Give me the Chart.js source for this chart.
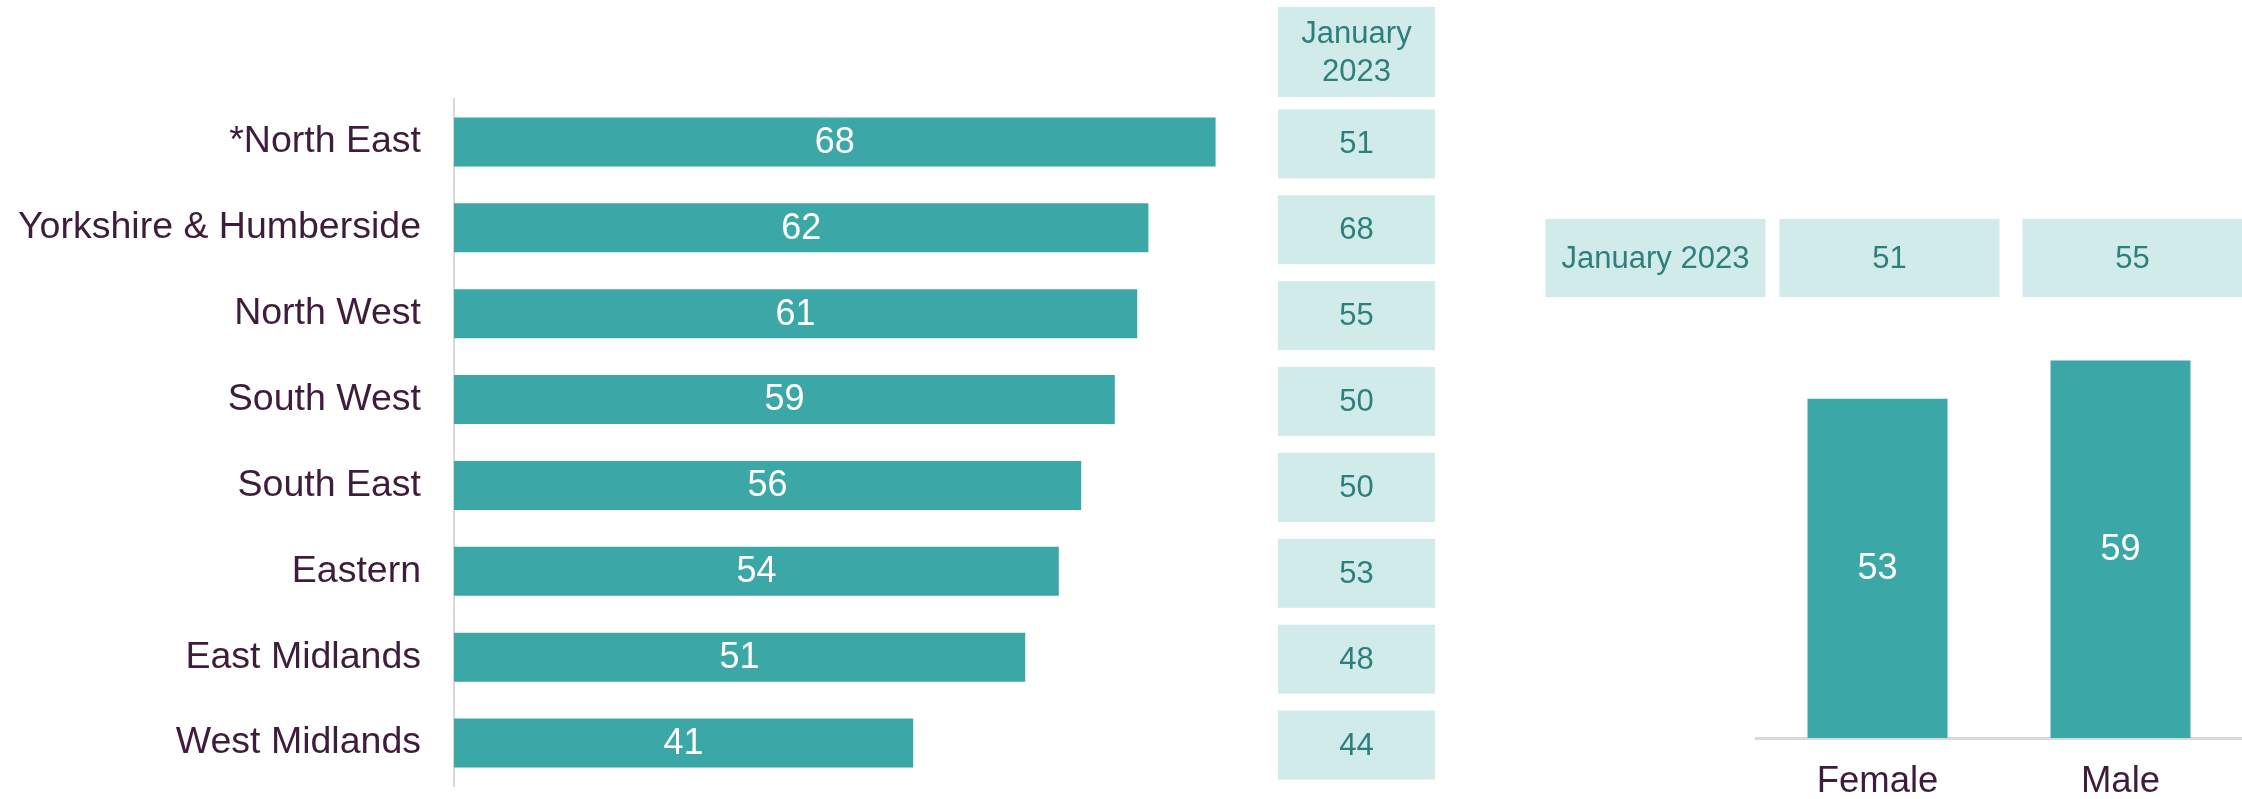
<!DOCTYPE html>
<html>
<head>
<meta charset="utf-8">
<title>Regions and gender</title>
<script src="https://cdn.jsdelivr.net/npm/chart.js@4/dist/chart.umd.min.js"></script>
<style>
    html, body { margin: 0; padding: 0; background: #ffffff; }
    #wrap { position: relative; width: 2242px; height: 799px; overflow: hidden; }
    #regionChart { position: absolute; left: 0; top: 0; }
    #genderChart { position: absolute; left: 1460px; top: 0; }
</style>
</head>
<body>
<div id="wrap">
    <canvas id="regionChart" width="1460" height="799"></canvas>
    <canvas id="genderChart" width="782" height="799"></canvas>
</div>
<script>
// ---------- Data ----------
const regions = ['*North East', 'Yorkshire & Humberside', 'North West', 'South West', 'South East', 'Eastern', 'East Midlands', 'West Midlands'];
const regionValues = [68, 62, 61, 59, 56, 54, 51, 41];
const regionJan2023 = [51, 68, 55, 50, 50, 53, 48, 44];
const regionTableHeader = ['January', '2023'];

const genders = ['Female', 'Male'];
const genderValues = [53, 59];
const genderJan2023 = [51, 55];
const genderRowLabel = 'January 2023';

// ---------- Styles ----------
const FONT = '"Liberation Sans", Arial, sans-serif';
const BAR = '#3ba7a6';
const BOX_BG = '#d1eaea';
const BOX_TEXT = '#2d7f7c';
const LABEL = '#3e1c3b';
const AXIS = '#d9d9d9';

// white value inside each bar
const barValueLabels = {
    id: 'barValueLabels',
    afterDatasetsDraw(chart) {
        const ctx = chart.ctx;
        const meta = chart.getDatasetMeta(0);
        const values = chart.data.datasets[0].data;
        ctx.save();
        ctx.fillStyle = '#ffffff';
        ctx.font = '36px ' + FONT;
        ctx.textAlign = 'center';
        ctx.textBaseline = 'middle';
        meta.data.forEach((bar, i) => {
            const p = bar.getCenterPoint();
            ctx.fillText(String(values[i]), p.x, p.y + 1);
        });
        ctx.restore();
    },
};

// side table next to the region bars
const regionTable = {
    id: 'regionTable',
    afterDraw(chart) {
        const ctx = chart.ctx;
        const y = chart.scales.y;
        const x0 = 1278, w = 157, cx = x0 + w / 2;
        ctx.save();
        ctx.fillStyle = BOX_BG;
        ctx.fillRect(x0, 7, w, 90);
        ctx.fillStyle = BOX_TEXT;
        ctx.font = '31px ' + FONT;
        ctx.textAlign = 'center';
        ctx.textBaseline = 'middle';
        ctx.fillText(regionTableHeader[0], cx, 34);
        ctx.fillText(regionTableHeader[1], cx, 72);
        regionJan2023.forEach((v, i) => {
            const cy = y.getPixelForValue(i) + 2;
            ctx.fillStyle = BOX_BG;
            ctx.fillRect(x0, cy - 34.5, w, 69);
            ctx.fillStyle = BOX_TEXT;
            ctx.fillText(String(v), cx, cy + 1);
        });
        ctx.restore();
    },
};

// row of boxes above the gender bars
const genderTable = {
    id: 'genderTable',
    afterDraw(chart) {
        const ctx = chart.ctx;
        const x = chart.scales.x;
        const w = 220, top = 219, h = 78, cy = top + h / 2;
        const centers = genderJan2023.map((v, i) => x.getPixelForValue(i) + 12);
        ctx.save();
        ctx.font = '31px ' + FONT;
        ctx.textAlign = 'center';
        ctx.textBaseline = 'middle';
        const labelCx = centers[0] - 234;
        ctx.fillStyle = BOX_BG;
        ctx.fillRect(labelCx - w / 2, top, w, h);
        ctx.fillStyle = BOX_TEXT;
        ctx.fillText(genderRowLabel, labelCx, cy + 1);
        genderJan2023.forEach((v, i) => {
            ctx.fillStyle = BOX_BG;
            ctx.fillRect(centers[i] - w / 2, top, w, h);
            ctx.fillStyle = BOX_TEXT;
            ctx.fillText(String(v), centers[i], cy + 1);
        });
        ctx.restore();
    },
};

// ---------- Region chart ----------
new Chart(document.getElementById('regionChart'), {
    type: 'bar',
    data: {
        labels: regions,
        datasets: [{
            data: regionValues,
            backgroundColor: BAR,
            borderWidth: 0,
            categoryPercentage: 1,
            barPercentage: 0.571,
        }],
    },
    options: {
        indexAxis: 'y',
        responsive: false,
        devicePixelRatio: 1,
        animation: false,
        layout: { padding: { top: 99, bottom: 13, left: 0, right: 222 } },
        plugins: { legend: { display: false }, tooltip: { enabled: false } },
        scales: {
            x: { display: false, min: 0, max: 70 },
            y: {
                grid: { display: false, drawTicks: false },
                border: { display: true, color: AXIS, width: 2 },
                ticks: { color: LABEL, font: { size: 37.5, family: FONT }, padding: 33 },
                afterFit(scale) {
                    scale.width = 454;
                    // labels sit inside the band, no extra room needed
                    scale.paddingTop = 0;
                    scale.paddingBottom = 0;
                },
            },
        },
    },
    plugins: [barValueLabels, regionTable],
});

// ---------- Gender chart ----------
new Chart(document.getElementById('genderChart'), {
    type: 'bar',
    data: {
        labels: genders,
        datasets: [{
            data: genderValues,
            backgroundColor: BAR,
            borderWidth: 0,
            categoryPercentage: 1,
            barPercentage: 0.576,
        }],
    },
    options: {
        responsive: false,
        devicePixelRatio: 1,
        animation: false,
        layout: { padding: { top: 290, bottom: 0, left: 296, right: 0 } },
        plugins: { legend: { display: false }, tooltip: { enabled: false } },
        scales: {
            y: { display: false, min: 0, max: 70 },
            x: {
                grid: { display: false, drawTicks: false },
                border: { display: true, color: AXIS, width: 3 },
                ticks: { color: LABEL, font: { size: 36.5, family: FONT }, padding: 22 },
                afterFit(scale) {
                    scale.height = 61;
                    scale.paddingLeft = 0;
                    scale.paddingRight = 0;
                },
            },
        },
    },
    plugins: [barValueLabels, genderTable],
});
</script>
</body>
</html>
